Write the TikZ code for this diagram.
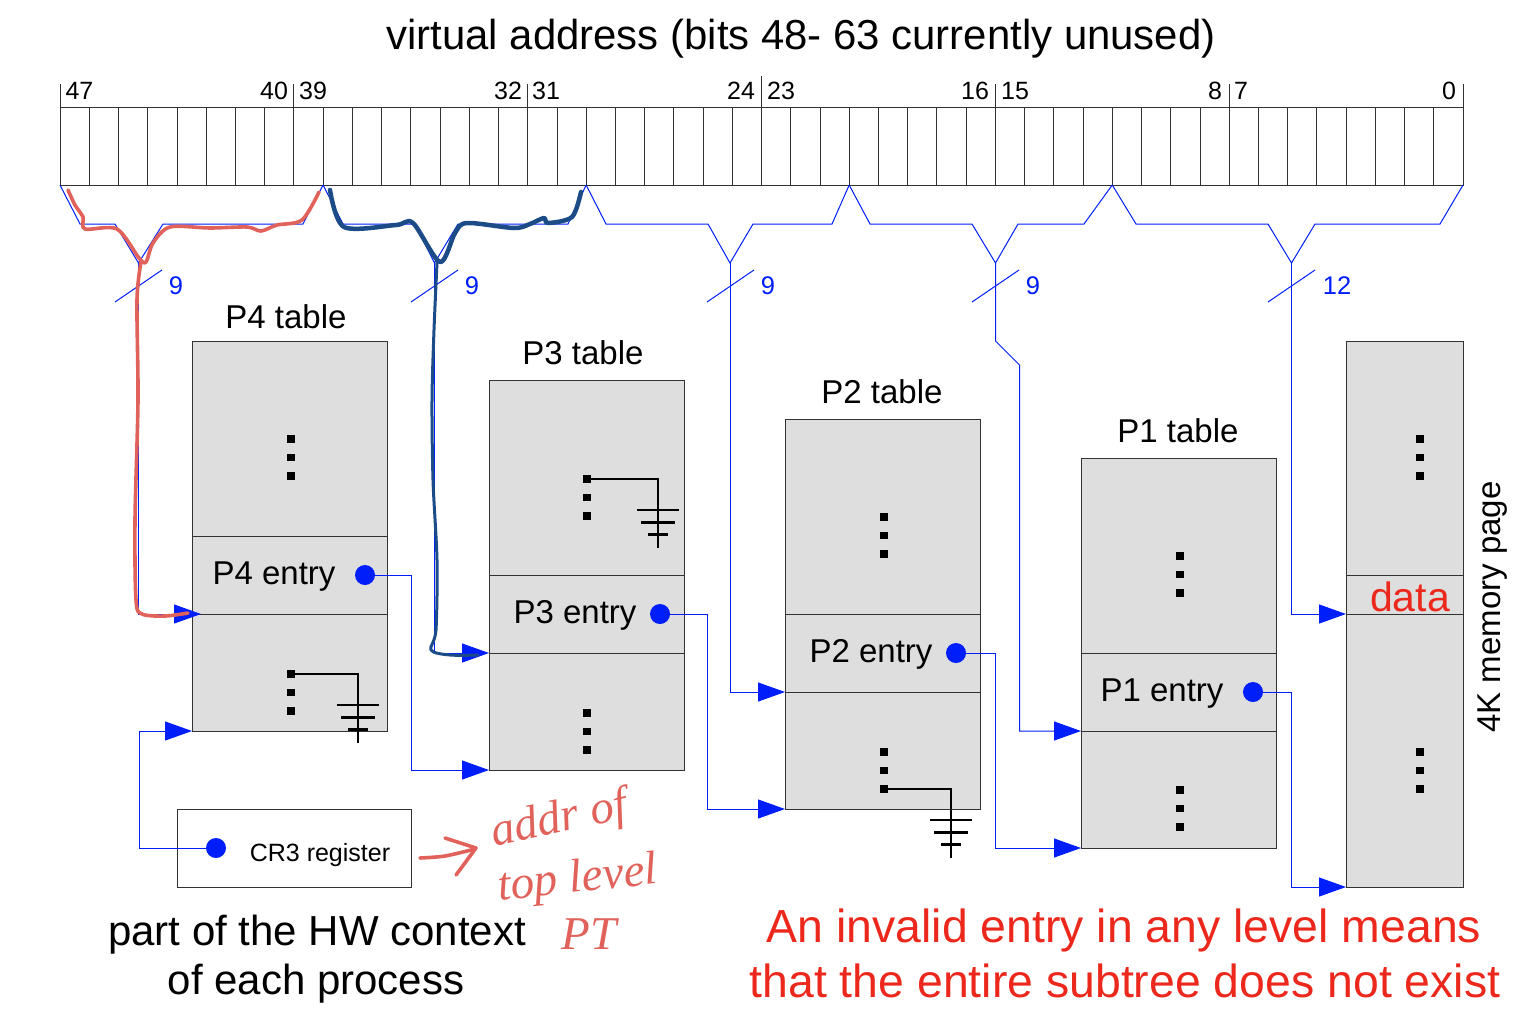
\documentclass[tikz,border=0pt]{standalone}
\usepackage{fontspec}
\setmainfont{Liberation Sans}
\newfontfamily\handfont{Liberation Serif}
\usetikzlibrary{arrows.meta, positioning}
\definecolor{wireblue}{RGB}{0,30,250}
\definecolor{boxgray}{RGB}{222,222,222}
\definecolor{edgegray}{RGB}{50,50,50}
\definecolor{invalidred}{RGB}{236,40,28}
\definecolor{handred}{RGB}{224,98,90}
\definecolor{handnavy}{RGB}{28,76,136}
\newcommand{\fs}[1]{\fontsize{#1}{#1}\selectfont}
\tikzstyle{bitcell}=[draw=edgegray, line width=0.8pt, rectangle, inner sep=0, outer sep=0, minimum width=29.229pt, minimum height=78pt, anchor=north west]
\tikzstyle{tablebox}=[fill=boxgray, draw=edgegray, line width=1pt, rectangle, inner sep=0, outer sep=0, anchor=north west]
\tikzstyle{bitlabel}=[anchor=base, inner sep=0, font=\fs{25}]
\tikzstyle{tablelabel}=[anchor=base, inner sep=0, font=\fs{33}]
\tikzstyle{widthlabel}=[anchor=base, inner sep=0, text=wireblue, font=\fs{25.5}]
\tikzstyle{bluedot}=[fill=wireblue, circle, inner sep=0, minimum size=20pt]
\tikzstyle{vdot}=[fill=black, rectangle, inner sep=0, minimum size=7.5pt]
\tikzstyle{wire}=[draw=wireblue, line width=1pt]
\tikzstyle{wirearrow}=[wire, -{Triangle[length=27pt, width=19pt]}]
\tikzstyle{groundline}=[draw=black, line width=2.6pt]
\tikzstyle{handstroke}=[draw=handred, line width=3.6pt, line cap=round, line join=round]
\tikzstyle{handlabel}=[anchor=base, inner sep=0, text=handred, font=\handfont\itshape\fs{47}]

\begin{document}
\begin{tikzpicture}[x=1pt, y=-1pt]
\useasboundingbox (0,0) rectangle (1530,1010);

\node [anchor=base, inner sep=0, font=\fs{41.9}] (title) at (801,49) {virtual address (bits 48- 63 currently unused)};

\foreach \b in {0,...,47}
{
	\node[bitcell] (bit\b) at ({60+(47-\b)*29.229},107) {};
}
\foreach \b in {47,39,31,15,7}
{
	\draw [draw=edgegray, line width=0.8pt] (bit\b.north west) -- ++(0,-23);
}
\draw [draw=edgegray, line width=0.8pt] (bit23.north west) -- ++(0,-31);
\draw [draw=edgegray, line width=0.8pt] (bit0.north east) -- ++(0,-23);

\node[bitlabel] (lab47) at (79.5,99) {47};
\node[bitlabel] (lab40) at (274,99) {40};
\node[bitlabel] (lab39) at (313,99) {39};
\node[bitlabel] (lab32) at (508,99) {32};
\node[bitlabel] (lab31) at (546,99) {31};
\node[bitlabel] (lab24) at (741,99) {24};
\node[bitlabel] (lab23) at (781,99) {23};
\node[bitlabel] (lab16) at (975,99) {16};
\node[bitlabel] (lab15) at (1015,99) {15};
\node[bitlabel] (lab8) at (1215,99) {8};
\node[bitlabel] (lab7) at (1241,99) {7};
\node[bitlabel] (lab0) at (1449,99) {0};

\node[tablebox, minimum width=195pt, minimum height=195pt] (p4top) at (192,341) {};
\node[tablebox, minimum width=195pt, minimum height=78pt] (p4entry) at (192,536) {};
\node[tablebox, minimum width=195pt, minimum height=117pt] (p4low) at (192,614) {};

\node[tablebox, minimum width=195pt, minimum height=195pt] (p3top) at (489,380) {};
\node[tablebox, minimum width=195pt, minimum height=78pt] (p3entry) at (489,575) {};
\node[tablebox, minimum width=195pt, minimum height=117pt] (p3low) at (489,653) {};

\node[tablebox, minimum width=195pt, minimum height=195pt] (p2top) at (785,419) {};
\node[tablebox, minimum width=195pt, minimum height=78pt] (p2entry) at (785,614) {};
\node[tablebox, minimum width=195pt, minimum height=117pt] (p2low) at (785,692) {};

\node[tablebox, minimum width=195pt, minimum height=195pt] (p1top) at (1081,458) {};
\node[tablebox, minimum width=195pt, minimum height=78pt] (p1entry) at (1081,653) {};
\node[tablebox, minimum width=195pt, minimum height=117pt] (p1low) at (1081,731) {};

\node[tablebox, minimum width=117pt, minimum height=234pt] (pagetop) at (1346,341) {};
\node[tablebox, minimum width=117pt, minimum height=39pt] (pagedata) at (1346,575) {};
\node[tablebox, minimum width=117pt, minimum height=273pt] (pagelow) at (1346,614) {};

\node[tablebox, fill=white, minimum width=234pt, minimum height=78pt] (cr3) at (177,809) {};

\node[tablelabel] (p4title) at (286,328) {P4 table};
\node[tablelabel] (p3title) at (583,364) {P3 table};
\node[tablelabel] (p2title) at (882,403) {P2 table};
\node[tablelabel] (p1title) at (1178,442) {P1 table};
\node[tablelabel] (p4text) at (274,584) {P4 entry};
\node[tablelabel] (p3text) at (575,623) {P3 entry};
\node[tablelabel] (p2text) at (871,662) {P2 entry};
\node[tablelabel] (p1text) at (1162,701) {P1 entry};
\node [anchor=base, inner sep=0, font=\fs{25}] (cr3text) at (320,861) {CR3 register};
\node [anchor=base, inner sep=0, text=invalidred, font=\fs{41}] (datatext) at (1410,611) {data};
\node [rotate=90, inner sep=0, font=\fs{33}] (pagetext) at (1493,607) {4K memory page};

\node [anchor=base, inner sep=0, font=\fs{42}] (hwone) at (317,945) {part of the HW context};
\node [anchor=base, inner sep=0, font=\fs{42}] (hwtwo) at (316,994) {of each process};
\node [anchor=base, inner sep=0, text=invalidred, font=\fs{46.4}] (badone) at (1124,942) {An invalid entry in any level means};
\node [anchor=base, inner sep=0, text=invalidred, font=\fs{46.4}] (badtwo) at (1125,997) {that the entire subtree does not exist};

\foreach \x/\y in {291/439, 291/674, 587/479, 587/713, 884/517, 884/752, 1180/556, 1180/790, 1420/439, 1420/752}
{
	\node[vdot] (dot\x-\y) at (\x,\y) {};
	\node[vdot] (dot\x-\y-b) at (\x,\y+18.5) {};
	\node[vdot] (dot\x-\y-c) at (\x,\y+37) {};
}

\foreach \x/\y/\turn in {291/674/67, 587/479/71, 884/789/67}
{
	\draw [groundline] (\x,\y) -- ++(\turn,0) -- ++(0,69);
	\draw [groundline] (\x+\turn-21,\y+31) -- ++(42,0);
	\draw [groundline] (\x+\turn-17,\y+43.5) -- ++(34,0);
	\draw [groundline] (\x+\turn-10,\y+55.5) -- ++(20,0);
}

\coordinate (apex4) at (138.5,263);
\coordinate (apex3) at (434.5,263);
\coordinate (apex2) at (730,263);
\coordinate (apex1) at (995.5,263);
\coordinate (apex0) at (1291.5,263);

\draw [wire] (bit47.south west) -- (80,224) -- (115,224) -- (apex4) -- (163,224) -- (303,224) -- (bit38.south west);
\draw [wire] (bit38.south west) -- (343,224) -- (415,224) -- (apex3) -- (458,224) -- (568,224) -- (bit29.south west);
\draw [wire] (bit29.south west) -- (606,224) -- (708,224) -- (apex2) -- (753,224) -- (832,224) -- (bit20.south west);
\draw [wire] (bit20.south west) -- (870,224) -- (972,224) -- (apex1) -- (1018,224) -- (1084,224) -- (bit11.south west);
\draw [wire] (bit11.south west) -- (1136,224) -- (1268,224) -- (apex0) -- (1315,224) -- (1440,224) -- (bit0.south east);

\foreach \x/\n in {115/9, 411/9, 707/9, 972/9}
{
	\draw [wire] (\x,302) -- ++(47,-32);
	\node[widthlabel] (width\x) at (\x+61,294) {\n};
}
\draw [wire] (1268,302) -- ++(47,-32);
\node[widthlabel] (width1268) at (1337,294) {12};

\node[bluedot] (p4dot) at (365,575) {};
\node[bluedot] (p3dot) at (660,614) {};
\node[bluedot] (p2dot) at (956,653) {};
\node[bluedot] (p1dot) at (1253,692) {};
\node[bluedot] (cr3dot) at (216,848) {};

\coordinate (p4in) at ([xshift=9pt]p4low.north west);
\draw [wirearrow] (apex4) |- (p4in);
\draw [wirearrow] (apex3) |- (p3low.north west);
\draw [wirearrow] (apex2) |- (p2low.north west);
\draw [wirearrow] (apex1) -- ++(0,78) -- ++(24,24) |- (p1low.north west);
\draw [wirearrow] (apex0) |- (pagelow.north west);

\draw [wirearrow] (p4dot) -- ++(46,0) |- (p3low.south west);
\draw [wirearrow] (p3dot) -- ++(47,0) |- (p2low.south west);
\draw [wirearrow] (p2dot) -- ++(39,0) |- (p1low.south west);
\draw [wirearrow] (p1dot) -- ++(38,0) |- (pagelow.south west);
\draw [wirearrow] (cr3dot) -- ++(-77,0) |- (p4low.south west);

\draw [handstroke] plot [smooth, tension=0.5] coordinates {(68,190) (75,205) (83,217) (85,229) (117,229) (139,258) (146,262) (153,243) (170,227) (210,228) (247,227) (261,231) (277,225) (302,220) (319,192)};
\draw [handstroke] plot [smooth, tension=0.5] coordinates {(141,262) (137,300) (138,400) (135,520) (136,600) (142,614) (165,616) (188,613)};
\draw [handstroke, draw=handnavy, line width=4.5pt] plot [smooth, tension=0.5] coordinates {(330,190) (344,227) (396,225) (413,223) (440,262) (455,233) (467,223) (514,228) (530,224) (544,218) (548,223) (572,217) (581,192)};
\draw [handstroke, draw=handnavy, line width=3pt] plot [smooth, tension=0.5] coordinates {(437,263) (434,330) (432,400) (433,480) (437,560) (436,630) (431,650) (450,655) (478,655)};

\draw [handstroke] plot [smooth, tension=0.5] coordinates {(420,858) (445,856) (475,849)};
\draw [handstroke] (445,838) -- (476,848) -- (456,875);
\node[handlabel, rotate=12] (handone) at (562,832) {addr of};
\node[handlabel, rotate=6] (handtwo) at (579,892) {top level};
\node[handlabel] (handthree) at (589,949) {PT};
\end{tikzpicture}
\end{document}
